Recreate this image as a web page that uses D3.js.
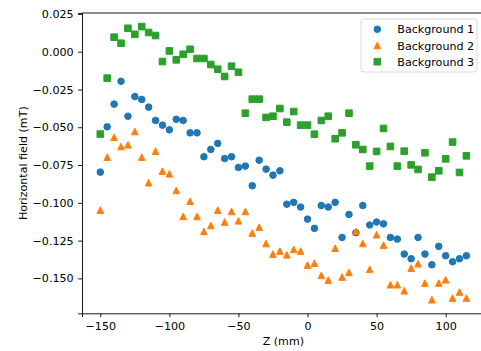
<!DOCTYPE html>
<html>
<head>
<meta charset="utf-8">
<script src="https://cdn.jsdelivr.net/npm/d3@7"></script>
<style>
  body { margin: 0; background: #fff; }
  svg { display: block; font-family: "DejaVu Sans", sans-serif; }
</style>
</head>
<body>
<svg width="481" height="351"></svg>
<script>
// positions along the axis (mm)
const zValues = [-150, -145, -140, -135, -130, -125, -120, -115, -110, -105,
  -100, -95, -90, -85, -80, -75, -70, -65, -60, -55,
  -50, -45, -40, -35, -30, -25, -20, -15, -10, -5,
  0, 5, 10, 15, 20, 25, 30, 35, 40, 45,
  50, 55, 60, 65, 70, 75, 80, 85, 90, 95,
  100, 105, 110, 115];

const background1 = [-0.0797, -0.0497, -0.0347, -0.0196, -0.0427, -0.0297, -0.0316, -0.0367, -0.0455, -0.0486,
  -0.0517, -0.0447, -0.0455, -0.0537, -0.0537, -0.0695, -0.0647, -0.0607, -0.0707, -0.0695,
  -0.0766, -0.0757, -0.0887, -0.0718, -0.0777, -0.0817, -0.0788, -0.1009, -0.0997, -0.1028,
  -0.1108, -0.1169, -0.1018, -0.1028, -0.0997, -0.1229, -0.1077, -0.1198, -0.1018, -0.1147,
  -0.1127, -0.1139, -0.1229, -0.1240, -0.1339, -0.1370, -0.1229, -0.1339, -0.1410, -0.1288,
  -0.1350, -0.1390, -0.1370, -0.1350];

const background2 = [-0.1048, -0.0698, -0.0566, -0.0627, -0.0616, -0.0528, -0.0698, -0.0867, -0.0658, -0.0790,
  -0.0808, -0.0918, -0.1090, -0.0989, -0.1090, -0.1189, -0.1150, -0.1048, -0.1127, -0.1057,
  -0.1119, -0.1057, -0.1200, -0.1161, -0.1269, -0.1339, -0.1319, -0.1344, -0.1308, -0.1319,
  -0.1412, -0.1399, -0.1480, -0.1511, -0.1300, -0.1491, -0.1460, -0.1189, -0.1269, -0.1440,
  -0.1211, -0.1280, -0.1542, -0.1542, -0.1582, -0.1432, -0.1403, -0.1531, -0.1641, -0.1531,
  -0.1509, -0.1630, -0.1590, -0.1630];

const background3 = [-0.0545, -0.0175, 0.0096, 0.0056, 0.0155, 0.0115, 0.0166, 0.0127, 0.0107, -0.0065,
  0.0005, -0.0054, -0.0017, 0.0016, -0.0045, -0.0045, -0.0085, -0.0116, -0.0164, -0.0096,
  -0.0136, -0.0407, -0.0314, -0.0314, -0.0435, -0.0427, -0.0376, -0.0466, -0.0396, -0.0486,
  -0.0486, -0.0546, -0.0455, -0.0427, -0.0576, -0.0537, -0.0407, -0.0616, -0.0647, -0.0757,
  -0.0660, -0.0508, -0.0627, -0.0757, -0.0658, -0.0749, -0.0779, -0.0669, -0.0830, -0.0788,
  -0.0709, -0.0598, -0.0799, -0.0689];

const seriesNames = ["Background 1", "Background 2", "Background 3"];
const seriesColors = ["#1f77b4", "#ff7f0e", "#2ca02c"];
const seriesShapes = ["circle", "triangle", "square"];
const xTicks = [-150, -100, -50, 0, 50, 100];
const yTicks = [0.025, 0, -0.025, -0.05, -0.075, -0.1, -0.125, -0.15];

const svg = d3.select("svg");
const margin = { top: 13, left: 82, right: 484.7, bottom: 313.3 };
const fontSize = "11.1px";

const x = d3.scaleLinear().domain([-163.25, 128.25]).range([margin.left, margin.right]);
const y = d3.scaleLinear().domain([-0.1731, 0.0256]).range([margin.bottom, margin.top]);

// marker drawing
const msize = 6.6;
function marker(sel, shape, color) {
  if (shape === "circle") {
    sel.append("circle").attr("r", msize / 2);
  } else if (shape === "square") {
    sel.append("rect")
      .attr("x", -msize / 2).attr("y", -msize / 2)
      .attr("width", msize).attr("height", msize);
  } else {
    const h = msize / 2;
    sel.append("path").attr("d", `M0,${-h}L${h},${h}L${-h},${h}Z`);
  }
  sel.selectAll("*")
    .attr("fill", color)
    .attr("stroke", color)
    .attr("stroke-width", 1)
    .attr("stroke-linejoin", "round");
}

const plot = svg.append("g");
[background1, background2, background3].forEach((vals, si) => {
  const pts = plot.append("g").selectAll("g")
    .data(zValues.map((z, i) => ({ z: z, v: vals[i] })))
    .enter().append("g")
    .attr("transform", d => `translate(${x(d.z)},${y(d.v)})`);
  pts.each(function () { marker(d3.select(this), seriesShapes[si], seriesColors[si]); });
});

// Axes
const xAxis = svg.append("g")
  .attr("transform", `translate(0,${margin.bottom})`)
  .call(d3.axisBottom(x).tickValues(xTicks).tickSize(3.9).tickPadding(4.5).tickFormat(d3.format("d")));
const yAxis = svg.append("g")
  .attr("transform", `translate(${margin.left},0)`)
  .call(d3.axisLeft(y).tickValues(yTicks).tickSize(3.9).tickPadding(4.5).tickFormat(d3.format(".3f")));

[xAxis, yAxis].forEach(a => {
  a.selectAll("text").attr("font-family", "DejaVu Sans").attr("font-size", fontSize).attr("fill", "#000");
  a.selectAll("line").attr("stroke", "#000").attr("stroke-width", 0.9);
  a.select(".domain").attr("stroke", "#000").attr("stroke-width", 0.9);
});

// top spine (right spine falls outside the picture)
svg.append("line")
  .attr("x1", margin.left).attr("x2", margin.right)
  .attr("y1", margin.top).attr("y2", margin.top)
  .attr("stroke", "#000").attr("stroke-width", 0.9);

svg.append("text")
  .attr("x", (margin.left + margin.right) / 2)
  .attr("y", 344.5)
  .attr("text-anchor", "middle")
  .attr("font-size", fontSize)
  .text("Z (mm)");

svg.append("text")
  .attr("transform", `translate(27,${(margin.top + margin.bottom) / 2}) rotate(-90)`)
  .attr("text-anchor", "middle")
  .attr("font-size", fontSize)
  .text("Horizontal field (mT)");

// Legend
const legend = svg.append("g").attr("transform", "translate(361,19)");
legend.append("rect")
  .attr("x", 0).attr("y", 0)
  .attr("width", 116).attr("height", 53)
  .attr("rx", 3)
  .attr("fill", "#fff").attr("fill-opacity", 0.8)
  .attr("stroke", "#d6d6d6").attr("stroke-width", 0.9);

seriesNames.forEach((name, i) => {
  const row = legend.append("g").attr("transform", `translate(0,${10.3 + i * 16.2})`);
  const m = row.append("g").attr("transform", "translate(16.3,0)");
  marker(m, seriesShapes[i], seriesColors[i]);
  row.append("text")
    .attr("x", 36.3)
    .attr("y", 4)
    .attr("font-size", fontSize)
    .attr("fill", "#000")
    .text(name);
});
</script>
</body>
</html>
